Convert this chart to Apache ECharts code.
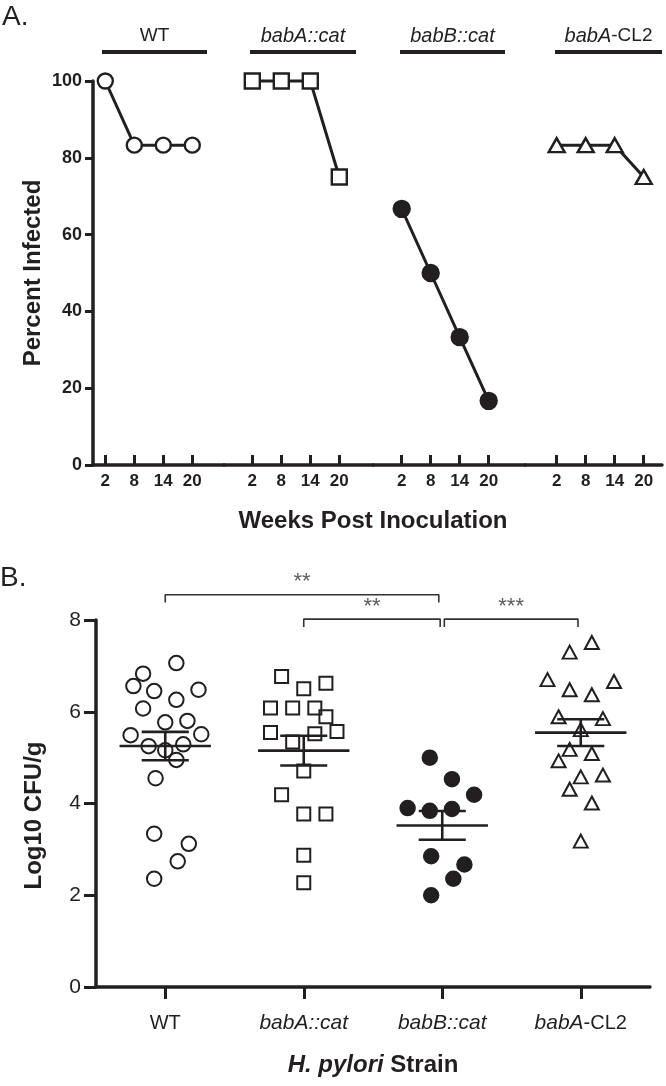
<!DOCTYPE html>
<html><head><meta charset="utf-8">
<script src="https://cdn.jsdelivr.net/npm/echarts@6/dist/echarts.min.js"></script>
<style>html,body{margin:0;padding:0;background:#fff}#c{width:666px;height:1086px}</style>
</head><body><div id="c"></div>
<script>
// ---------- Panel A data (percent infected) ----------
const weeks = [2, 8, 14, 20];
const strains = ['WT', 'babA::cat', 'babB::cat', 'babA-CL2'];
const pctWT   = [100, 83.3, 83.3, 83.3];
const pctBabA = [100, 100, 100, 75];
const pctBabB = [66.7, 50, 33.3, 16.7];
const pctCL2  = [83.3, 83.3, 83.3, 75];
const pctTicks = [0, 20, 40, 60, 80, 100];

// ---------- Panel B data (log10 CFU/g) ----------
const cfuWT   = [7.06, 6.83, 6.56, 6.45, 6.48, 6.26, 6.07, 5.77, 5.80, 5.49, 5.51, 5.25, 5.16, 5.29, 4.95, 4.55, 3.34, 3.12, 2.74, 2.36];
const cfuBabA = [6.77, 6.50, 6.62, 6.08, 6.08, 6.08, 5.89, 5.55, 5.52, 5.57, 5.34, 4.71, 4.19, 3.77, 3.77, 2.87, 2.27];
const cfuBabB = [5.00, 4.53, 4.19, 3.90, 3.84, 3.88, 2.85, 2.67, 2.36, 2.00];
const cfuCL2  = [7.51, 7.30, 6.70, 6.66, 6.48, 6.37, 5.89, 5.85, 5.61, 5.18, 5.09, 4.93, 4.58, 4.62, 4.31, 4.01, 3.18];
// horizontal scatter offsets (in category widths)
const offWT   = [0.08, -0.16, -0.23, -0.08, 0.24, 0.08, -0.16, 0, 0.16, -0.25, 0.26, -0.12, 0, 0.13, 0.08, -0.07, -0.08, 0.17, 0.09, -0.08];
const offBabA = [-0.16, 0, 0.16, -0.24, -0.08, 0.08, 0.16, -0.24, 0.08, 0.24, -0.08, 0, -0.16, 0, 0.16, 0, 0];
const offBabB = [-0.09, 0.07, 0.23, -0.25, -0.09, 0.07, -0.08, 0.16, 0.08, -0.08];
const offCL2  = [0.08, -0.08, -0.24, 0.24, -0.08, 0.08, -0.16, 0.16, 0, -0.08, 0.08, -0.16, 0, 0.16, -0.08, 0.08, 0];
const cfuTicks = [0, 2, 4, 6, 8];
const comparisons = [
  { from: 0, to: 2, label: '**' },
  { from: 1, to: 2, label: '**' },
  { from: 2, to: 3, label: '***' }
];

// ---------- styling / layout ----------
const INK = '#231f20';
const FONT = '"Liberation Sans", Arial, Helvetica, sans-serif';
const A_TOP = 81, A_ZERO = 465;
const PX_PER_WEEK = 4.833;
const tick2Px = [105.3, 252.3, 401.7, 556.7];
const gridEdges = [93, 224, 373, 525, 662];
const headerSpans = [[102, 207], [250, 356], [400, 505], [555, 662]];
const B_LEFT = 96, B_RIGHT = 650, B_TOP = 620, B_ZERO = 987;
const bracketLevels = [8.55, 8.02, 8.02];
const bracketDrop = 0.17;
const bracketInset = [[0, -0.025], [0, -0.015], [0.015, -0.02]];

const pctSeries = [pctWT, pctBabA, pctBabB, pctCL2];
const cfuSeries = [cfuWT, cfuBabA, cfuBabB, cfuCL2];
const offSeries = [offWT, offBabA, offBabB, offCL2];

function mean(a) { return a.reduce((s, v) => s + v, 0) / a.length; }
function sem(a) { const m = mean(a); return Math.sqrt(a.reduce((s, v) => s + (v - m) * (v - m), 0) / (a.length - 1)) / Math.sqrt(a.length); }
function richStrain(name) { return name.replace(/^(bab[AB](::cat)?)/, '{i|$1}'); }

const markA = [
  { symbol: 'circle', size: 15, fill: '#fff' },
  { symbol: 'rect', size: 15, fill: '#fff' },
  { symbol: 'circle', size: 16, fill: INK },
  { symbol: 'triangle', size: [16, 14], fill: '#fff' }
];
const markB = [
  { symbol: 'circle', size: 14.5, fill: 'transparent' },
  { symbol: 'rect', size: 13, fill: 'transparent' },
  { symbol: 'circle', size: 14.5, fill: INK },
  { symbol: 'triangle', size: [14, 13], fill: 'transparent' }
];

const grids = [], xAxes = [], yAxes = [], series = [];
for (let g = 0; g < 4; g++) {
  const left = gridEdges[g], right = gridEdges[g + 1];
  grids.push({ left: left, width: right - left, top: A_TOP, height: A_ZERO - A_TOP, outerBoundsMode: 'none' });
  xAxes.push({
    type: 'value', gridIndex: g,
    min: weeks[0] - (tick2Px[g] - left) / PX_PER_WEEK,
    max: weeks[0] + (right - tick2Px[g]) / PX_PER_WEEK,
    axisLine: { show: true, onZero: false, lineStyle: { color: INK, width: 3.5 } },
    axisTick: { show: true, inside: true, length: 10, customValues: weeks, lineStyle: { color: INK, width: 3 } },
    axisLabel: { show: true, customValues: weeks, color: INK, fontFamily: FONT, fontWeight: 'bold', fontSize: 17, margin: 8 },
    splitLine: { show: false }
  });
  yAxes.push(g === 0 ? {
    type: 'value', gridIndex: 0, min: 0, max: 100, interval: 20,
    axisLine: { show: true, onZero: false, lineStyle: { color: INK, width: 3.5 } },
    axisTick: { show: true, length: 8, lineStyle: { color: INK, width: 3 } },
    axisLabel: { color: INK, fontFamily: FONT, fontWeight: 'bold', fontSize: 18, margin: 11 },
    splitLine: { show: false },
    name: 'Percent Infected', nameLocation: 'middle', nameGap: 48,
    nameTextStyle: { color: INK, fontFamily: FONT, fontWeight: 'bold', fontSize: 24 }
  } : { type: 'value', gridIndex: g, min: 0, max: 100, show: false, splitLine: { show: false } });
  const m = markA[g];
  series.push({
    type: 'line', xAxisIndex: g, yAxisIndex: g, clip: false,
    data: weeks.map((w, i) => [w, pctSeries[g][i]]),
    symbol: m.symbol, symbolSize: m.size, showAllSymbol: true,
    lineStyle: { color: INK, width: 3 },
    itemStyle: { color: m.fill, borderColor: INK, borderWidth: 2.4, opacity: 1 },
    z: 3
  });
}

// Panel B grid (index 4)
grids.push({ left: B_LEFT, width: B_RIGHT - B_LEFT, top: B_TOP, height: B_ZERO - B_TOP, outerBoundsMode: 'none' });
xAxes.push({
  type: 'category', gridIndex: 4, data: strains, boundaryGap: true,
  axisLine: { show: true, onZero: false, lineStyle: { color: INK, width: 3.5 } },
  axisTick: { show: true, alignWithLabel: true, length: 12, lineStyle: { color: INK, width: 3 } },
  axisLabel: {
    interval: 0, color: INK, fontFamily: FONT, fontSize: 20, margin: 26, formatter: richStrain,
    rich: { i: { fontStyle: 'italic', fontFamily: FONT, fontSize: 21, color: INK } }
  },
  name: '{i|H. pylori} Strain', nameLocation: 'middle', nameGap: 66,
  nameTextStyle: {
    color: INK, fontFamily: FONT, fontWeight: 'bold', fontSize: 24,
    rich: { i: { fontStyle: 'italic', fontWeight: 'bold', fontFamily: FONT, fontSize: 24, color: INK } }
  }
});
xAxes.push({ type: 'value', gridIndex: 4, min: -0.5, max: 3.5, show: false, splitLine: { show: false } });
yAxes.push({
  type: 'value', gridIndex: 4, min: 0, max: 8, interval: 2,
  axisLine: { show: true, onZero: false, lineStyle: { color: INK, width: 3.5 } },
  axisTick: { show: true, length: 12, lineStyle: { color: INK, width: 3 } },
  axisLabel: { color: INK, fontFamily: FONT, fontSize: 21, margin: 15 },
  splitLine: { show: false },
  name: 'Log10 CFU/g', nameLocation: 'middle', nameGap: 50,
  nameTextStyle: { color: INK, fontFamily: FONT, fontWeight: 'bold', fontSize: 24, padding: [0, 24, 0, 0] }
});

for (let g = 0; g < 4; g++) {
  const m = markB[g];
  series.push({
    type: 'scatter', xAxisIndex: 5, yAxisIndex: 4,
    data: cfuSeries[g].map((v, i) => [g + offSeries[g][i], v]),
    symbol: m.symbol, symbolSize: m.size,
    itemStyle: { color: m.fill, borderColor: INK, borderWidth: 2, opacity: 1 },
    z: 3
  });
}
// mean ± SEM
series.push({
  type: 'custom', xAxisIndex: 5, yAxisIndex: 4, z: 4,
  data: cfuSeries.map((a, g) => [g, mean(a), sem(a)]),
  encode: { x: 0, y: 1 },
  renderItem: function (params, api) {
    const g = api.value(0), mu = api.value(1), s = api.value(2);
    const seg = (x1, y1, x2, y2) => {
      const p1 = api.coord([x1, y1]), p2 = api.coord([x2, y2]);
      return { type: 'line', shape: { x1: p1[0], y1: p1[1], x2: p2[0], y2: p2[1] }, style: { stroke: INK, lineWidth: 2.6 } };
    };
    return { type: 'group', children: [
      seg(g - 0.33, mu, g + 0.33, mu),
      seg(g - 0.17, mu + s, g + 0.17, mu + s),
      seg(g - 0.17, mu - s, g + 0.17, mu - s),
      seg(g, mu - s, g, mu + s)
    ] };
  }
});
// significance brackets
comparisons.forEach((c, k) => {
  const y = bracketLevels[k], x1 = c.from + bracketInset[k][0], x2 = c.to + bracketInset[k][1];
  series.push({
    type: 'line', xAxisIndex: 5, yAxisIndex: 4, clip: false, symbol: 'none',
    data: [[x1, y - bracketDrop], [x1, y], [x2, y], [x2, y - bracketDrop]],
    lineStyle: { color: '#333', width: 1.6 }, z: 2
  });
  series.push({
    type: 'scatter', xAxisIndex: 5, yAxisIndex: 4, clip: false, symbolSize: 1,
    itemStyle: { color: 'transparent' },
    data: [[(x1 + x2) / 2, y]],
    label: { show: true, position: 'top', distance: 1, formatter: c.label, color: '#333', fontFamily: FONT, fontSize: 22 }
  });
});

// ---------- annotations ----------
const graphic = [
  { type: 'text', x: 2, y: 17, style: { text: 'A.', font: '28px ' + FONT, fill: INK, align: 'left', verticalAlign: 'middle' } },
  { type: 'text', x: 0, y: 578, style: { text: 'B.', font: '28px ' + FONT, fill: INK, align: 'left', verticalAlign: 'middle' } },
  { type: 'text', x: 373, y: 521, style: { text: 'Weeks Post Inoculation', font: 'bold 24px ' + FONT, fill: INK, align: 'center', verticalAlign: 'middle' } }
];
strains.forEach((s, g) => {
  const [a, b] = headerSpans[g];
  graphic.push({ type: 'line', shape: { x1: a, y1: 52, x2: b, y2: 52 }, style: { stroke: INK, lineWidth: 4 } });
  graphic.push({ type: 'text', x: (a + b) / 2, y: 36, style: {
    text: richStrain(s), font: '19px ' + FONT, fill: INK, align: 'center', verticalAlign: 'middle',
    rich: { i: { fontStyle: 'italic', fontSize: 20, fontFamily: FONT, fill: INK } }
  } });
});

const chart = echarts.init(document.getElementById('c'), null, { renderer: 'canvas' });
chart.setOption({
  animation: false,
  backgroundColor: '#fff',
  textStyle: { fontFamily: FONT, color: INK },
  grid: grids, xAxis: xAxes, yAxis: yAxes, series: series, graphic: graphic
});
</script></body></html>
